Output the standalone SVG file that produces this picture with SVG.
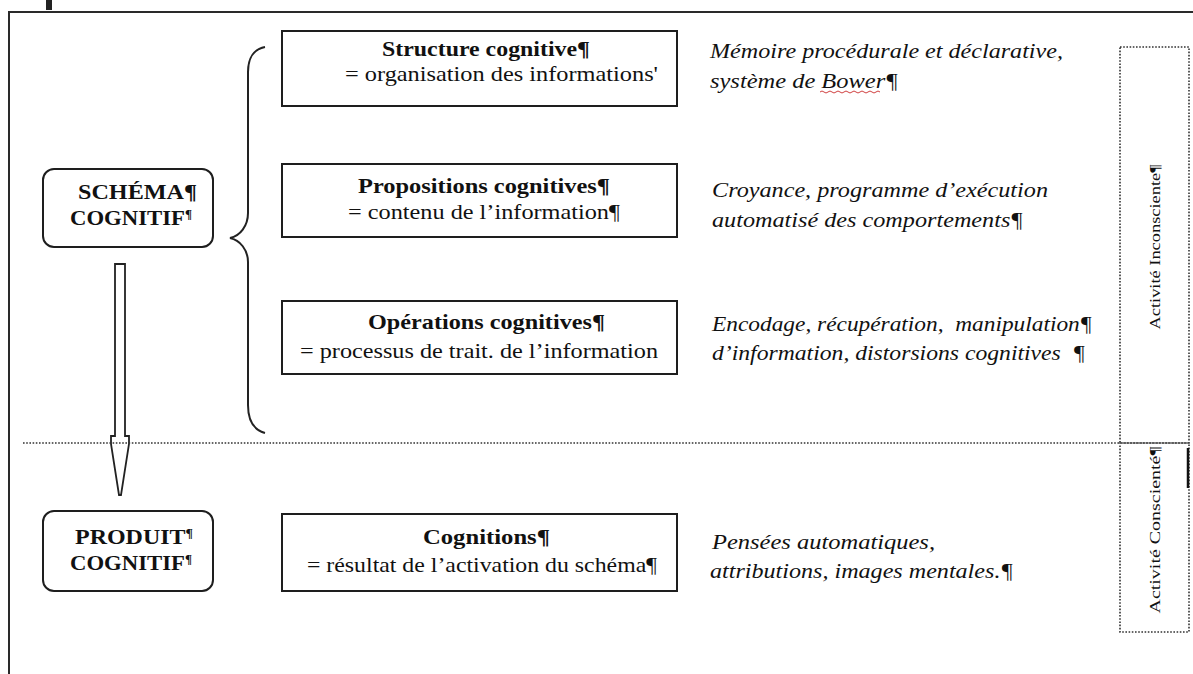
<svg xmlns="http://www.w3.org/2000/svg" width="1193" height="674" viewBox="0 0 1193 674">
<style>
.frame{fill:none;stroke:#2a2a2a;stroke-width:2}
.box{fill:#fff;stroke:#1e1e1e;stroke-width:2}
.dot{fill:none;stroke:#333;stroke-width:1.6;stroke-dasharray:1.6 1.6}
.b{font-family:"Liberation Serif","Times New Roman",serif;font-weight:bold;font-size:21px;fill:#111}
.r{font-family:"Liberation Serif","Times New Roman",serif;font-size:21px;fill:#111}
.i{font-family:"Liberation Serif","Times New Roman",serif;font-style:italic;font-size:21px;fill:#111;white-space:pre}
.v{font-family:"Liberation Serif","Times New Roman",serif;font-size:14px;fill:#111}
</style>
<rect width="1193" height="674" fill="#fff"/>
<path class="frame" d="M9,674 V12 H1193"/>
<rect x="46" y="0" width="6" height="10" fill="#222"/>

<g id="connectors">
<path d="M265,47 C254,49 248,58 248,72 V213 C248,226 240,236 230,238 C240,240 248,250 248,262 V405 C248,420 254,430 265,433" fill="none" stroke="#222" stroke-width="2"/>
<polygon points="115,264 125,264 125,436 129,436 129,444 121,495 119,495 111,444 111,436 115,436" fill="#fff" stroke="#222" stroke-width="1.8"/>
<line class="dot" x1="23" y1="443" x2="1120" y2="443"/>
</g>

<g id="schema">
<rect class="box" x="43" y="169" width="170" height="78" rx="11"/>
<text class="b" x="78" y="199" textLength="119" lengthAdjust="spacingAndGlyphs">SCHÉMA¶</text>
<text class="b" x="70" y="225" textLength="122" lengthAdjust="spacingAndGlyphs">COGNITIF<tspan font-size="12" dy="-7">¶</tspan></text>
</g>

<g id="produit">
<rect class="box" x="43" y="511" width="170" height="80" rx="11"/>
<text class="b" x="75" y="544" textLength="118" lengthAdjust="spacingAndGlyphs">PRODUIT<tspan font-size="12" dy="-7">¶</tspan></text>
<text class="b" x="70" y="570" textLength="122" lengthAdjust="spacingAndGlyphs">COGNITIF<tspan font-size="12" dy="-7">¶</tspan></text>
</g>

<g id="structure">
<rect class="box" x="282" y="31" width="395" height="75"/>
<text class="b" x="382" y="56" textLength="208" lengthAdjust="spacingAndGlyphs">Structure cognitive¶</text>
<text class="r" x="345" y="81" textLength="313" lengthAdjust="spacingAndGlyphs">= organisation des informations'</text>
</g>

<g id="propositions">
<rect class="box" x="282" y="164" width="395" height="73"/>
<text class="b" x="358" y="193" textLength="252" lengthAdjust="spacingAndGlyphs">Propositions cognitives¶</text>
<text class="r" x="348" y="219" textLength="272" lengthAdjust="spacingAndGlyphs">= contenu de l’information¶</text>
</g>

<g id="operations">
<rect class="box" x="282" y="301" width="395" height="73"/>
<text class="b" x="368" y="329" textLength="237" lengthAdjust="spacingAndGlyphs">Opérations cognitives¶</text>
<text class="r" x="300" y="358" textLength="358" lengthAdjust="spacingAndGlyphs">= processus de trait. de l’information</text>
</g>

<g id="cognitions">
<rect class="box" x="282" y="514" width="395" height="77"/>
<text class="b" x="423" y="544" textLength="127" lengthAdjust="spacingAndGlyphs">Cognitions¶</text>
<text class="r" x="307" y="572" textLength="350" lengthAdjust="spacingAndGlyphs">= résultat de l’activation du schéma¶</text>
</g>

<g id="notes">
<text class="i" x="710" y="58" textLength="353" lengthAdjust="spacingAndGlyphs">Mémoire procédurale et déclarative,</text>
<text class="i" x="710" y="88" textLength="188" lengthAdjust="spacingAndGlyphs">système de Bower¶</text>
<path d="M820,92 q2,-2 4,0 t4,0 t4,0 t4,0 t4,0 t4,0 t4,0 t4,0 t4,0 t4,0 t4,0 t4,0 t4,0 t4,0 t4,0" fill="none" stroke="#d04040" stroke-width="1"/>
<text class="i" x="712" y="197" textLength="336" lengthAdjust="spacingAndGlyphs">Croyance, programme d’exécution</text>
<text class="i" x="712" y="227" textLength="311" lengthAdjust="spacingAndGlyphs">automatisé des comportements¶</text>
<text class="i" x="712" y="331" textLength="380" lengthAdjust="spacingAndGlyphs">Encodage, récupération,  manipulation¶</text>
<text class="i" x="712" y="360" textLength="373" lengthAdjust="spacingAndGlyphs">d’information, distorsions cognitives  ¶</text>
<text class="i" x="712" y="549" textLength="223" lengthAdjust="spacingAndGlyphs">Pensées automatiques,</text>
<text class="i" x="710" y="578" textLength="303" lengthAdjust="spacingAndGlyphs">attributions, images mentales.¶</text>
</g>

<g id="inconscient">
<rect class="dot" x="1120" y="47" width="69" height="396"/>
<text class="v" transform="translate(1160,247) rotate(-90)" text-anchor="middle" textLength="165" lengthAdjust="spacingAndGlyphs">Activité Inconsciente¶</text>
</g>

<g id="conscient">
<rect class="dot" x="1120" y="443" width="69" height="189"/>
<line x1="1188" y1="448" x2="1188" y2="488" stroke="#111" stroke-width="2.5"/>
<text class="v" transform="translate(1160,530) rotate(-90)" text-anchor="middle" textLength="167" lengthAdjust="spacingAndGlyphs">Activité Conscienté¶</text>
</g>
</svg>
